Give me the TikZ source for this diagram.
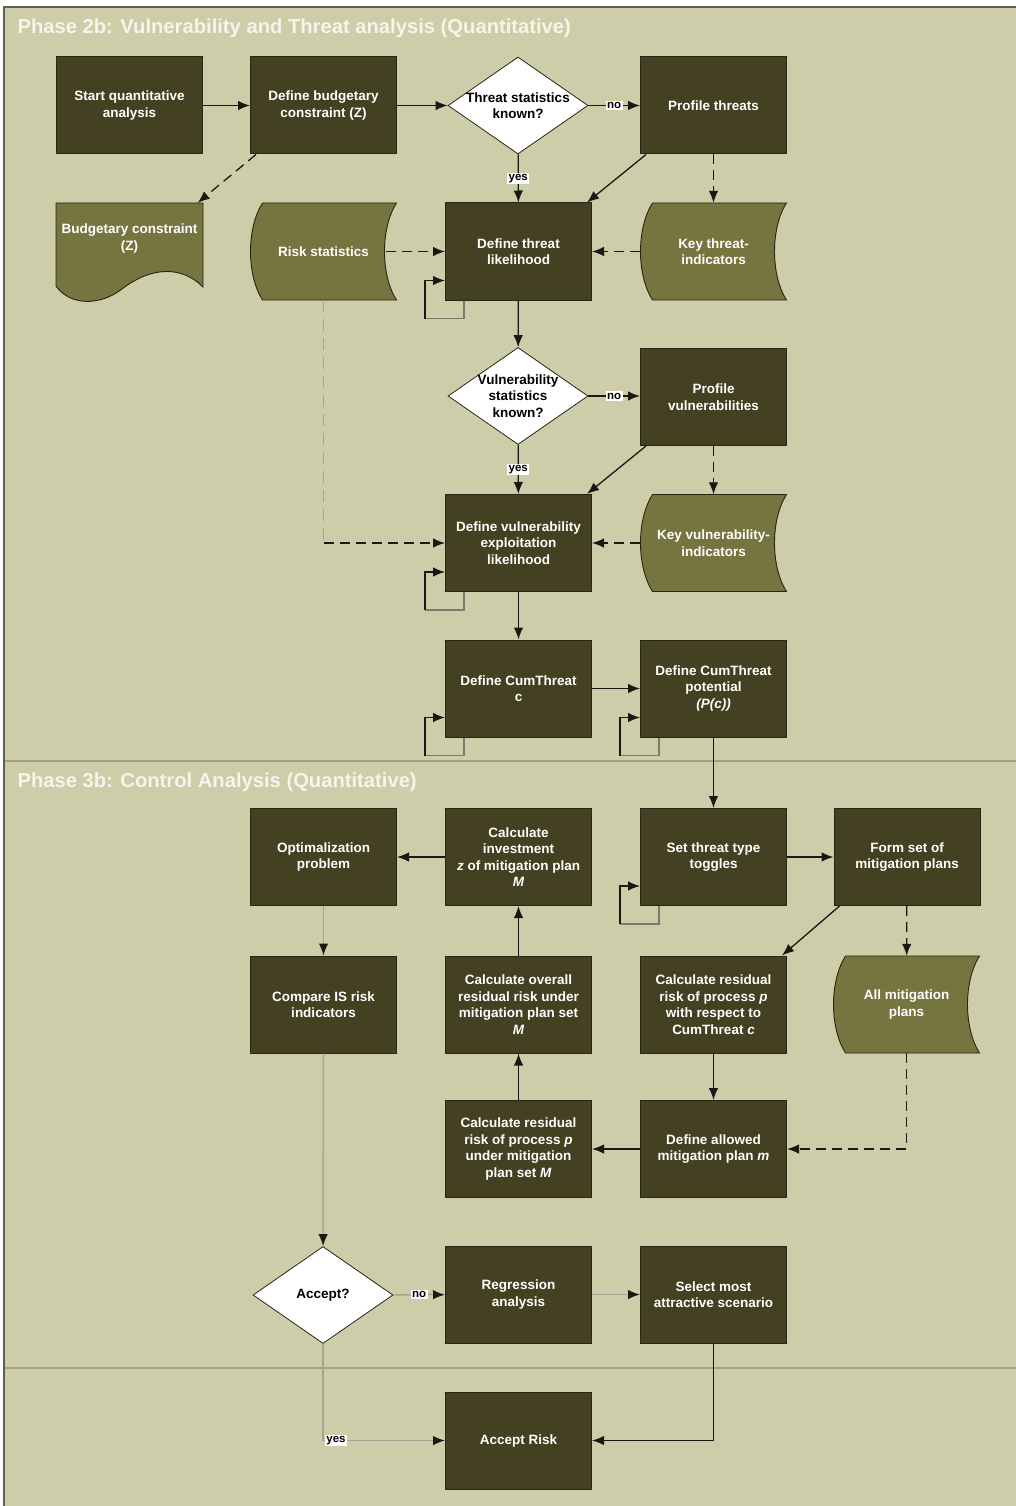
\documentclass[tikz,border=0pt]{standalone}
\usepackage{fontspec}
\setmainfont{Liberation Sans}
\usetikzlibrary{arrows.meta,shapes.geometric,calc}

\definecolor{canvas}{RGB}{205,205,170}
\definecolor{boxfill}{RGB}{67,65,33}
\definecolor{boxedge}{RGB}{38,38,18}
\definecolor{docfill}{RGB}{118,117,64}
\definecolor{laneline}{RGB}{168,158,128}
\definecolor{framecol}{RGB}{95,95,85}
\definecolor{linedark}{RGB}{25,25,20}
\definecolor{linelight}{RGB}{165,165,145}
\definecolor{titletext}{RGB}{245,245,235}

\newcommand\boxfont{\fontsize{13.5}{16.5}\selectfont\bfseries}
\newcommand\tagfont{\fontsize{11.5}{12}\selectfont\bfseries}

% stored-data outline: flat top and bottom, convex left side, concave right side
\newcommand\storedshape[4]{%
  \filldraw[fill=docfill, draw=boxedge, line width=0.9pt]
    ({#1+12},#2) -- (#3,#2)
    .. controls ({#3-16},{#2+25}) and ({#3-16},{#4-25}) .. (#3,#4)
    -- ({#1+12},#4)
    .. controls ({#1-4},{#4-25}) and ({#1-4},{#2+25}) .. ({#1+12},#2) -- cycle;}

% loop returning to the same step
\newcommand\selfloop[1]{%
  \draw[loopgray] ([xshift=19pt]#1.south west) -- ++(0pt,-18pt) -- ++(-39pt,0pt);
  \draw[flow] ([shift={(-20pt,-18pt)}]#1.south west) -- ([shift={(-20pt,20pt)}]#1.south west) -- ([yshift=20pt]#1.south west);}

\tikzset{
  proc/.style={rectangle, fill=boxfill, draw=boxedge, line width=1pt,
    minimum width=146pt, minimum height=97pt, inner sep=2pt,
    align=center, text=white, font=\boxfont},
  ghost/.style={rectangle, minimum width=146pt, minimum height=97pt,
    inner sep=2pt, align=center, text=white, font=\boxfont},
  decide/.style={diamond, fill=white, draw=boxedge, line width=0.8pt,
    minimum width=140pt, minimum height=97pt, inner sep=0pt},
  dtext/.style={align=center, text=black, font=\boxfont},
  title/.style={anchor=base west, text=titletext,
    font=\fontsize{20.2}{22}\selectfont\bfseries},
  tag/.style={fill=white, text=black, font=\tagfont, inner sep=1.5pt},
  tip/.style={-{Latex[length=12pt,width=9.5pt,color=linedark]}},
  flow/.style={draw=linedark, line width=1.3pt, tip},
  flowdash/.style={flow, dash pattern=on 10pt off 6pt},
  flowlight/.style={draw=linelight, line width=1.5pt, tip},
  lightdash/.style={draw=linelight, line width=1.5pt, dash pattern=on 12pt off 7pt},
  loopgray/.style={draw=linelight!70!linedark, line width=1.2pt},
  lane/.style={draw=laneline, line width=2pt},
}

\begin{document}
\begin{tikzpicture}[x=1pt,y=-1pt]
\useasboundingbox (0,0) rectangle (1016,1506);
\fill[white] (0,0) rectangle (1016,1506);
\fill[canvas] (4,7) rectangle (1016,1506);
\draw[draw=framecol, line width=2pt] (4,1506) -- (4,7) -- (1016,7);
\draw[lane] (5,761) -- (1016,761);
\draw[lane] (5,1368) -- (1016,1368);

\node[title] (t2b) at (14,34) {Phase 2b: Vulnerability and Threat analysis (Quantitative)};
\node[title] (t3b) at (14,787) {Phase 3b: Control Analysis (Quantitative)};

% ---------- Phase 2b ----------
\node[proc] (start) at (129.5,105.5) {Start quantitative\\analysis};
\node[proc] (budget) at (323.5,105.5) {Define budgetary\\constraint (Z)};
\node[decide, label={[dtext]center:Threat statistics\\known?}] (d1) at (518,105.5) {};
\node[proc] (profthreat) at (713.5,105.5) {Profile threats};

% document with wavy lower edge
\filldraw[fill=docfill, draw=boxedge, line width=0.9pt]
  (56,203) -- (203,203) -- (203,287)
  .. controls (182,266) and (152,266) .. (122,289)
  .. controls (100,306) and (70,306) .. (56,286) -- cycle;
\node[ghost, label={[text=white, align=center, font=\boxfont, yshift=13pt]center:Budgetary constraint\\(Z)}] (budgdoc) at (129.5,251.5) {};

\storedshape{250.5}{203}{396.5}{300}
\node[ghost] (riskstat) at (323.5,251.5) {Risk statistics};
\node[proc] (dtl) at (518.5,251.5) {Define threat\\likelihood};
\storedshape{640.5}{203}{786.5}{300}
\node[ghost] (keythreat) at (713.5,251.5) {Key threat-\\indicators};

\node[decide, label={[dtext]center:Vulnerability\\statistics\\known?}] (d2) at (518,396) {};
\node[proc] (profvuln) at (713.5,397) {Profile\\vulnerabilities};

\node[proc] (dvel) at (518.5,543) {Define vulnerability\\exploitation\\likelihood};
\storedshape{640.5}{494.5}{786.5}{591.5}
\node[ghost] (keyvuln) at (713.5,543) {Key vulnerability-\\indicators};

\node[proc] (cum) at (518.5,688.5) {Define CumThreat\\c};
\node[proc] (pot) at (713.5,688.5) {Define CumThreat\\potential\\\textit{(P(c))}};

% ---------- Phase 3b ----------
\node[proc] (optim) at (323.5,857) {Optimalization\\problem};
\node[proc] (invest) at (518.5,857) {Calculate\\investment\\\textit{z} of mitigation plan\\\textit{M}};
\node[proc] (toggles) at (713.5,857) {Set threat type\\toggles};
\node[proc] (formset) at (907,857) {Form set of\\mitigation plans};

\node[proc] (compare) at (323.5,1004.5) {Compare IS risk\\indicators};
\node[proc] (overall) at (518.5,1004.5) {Calculate overall\\residual risk under\\mitigation plan set\\\textit{M}};
\node[proc] (calcres) at (713.5,1004.5) {Calculate residual\\risk of process \textit{p}\\with respect to\\CumThreat \textit{c}};
\storedshape{833.5}{956}{979.5}{1053}
\node[ghost] (allmit) at (906.5,1004.5) {All mitigation\\plans};

\node[proc] (calcresM) at (518.5,1149) {Calculate residual\\risk of process \textit{p}\\under mitigation\\plan set \textit{M}};
\node[proc] (allowed) at (713.5,1149) {Define allowed\\mitigation plan \textit{m}};

\node[decide, label={[dtext]center:Accept?}] (accept) at (323,1295) {};
\node[proc] (regress) at (518.5,1294.5) {Regression\\analysis};
\node[proc] (select) at (713.5,1294.5) {Select most\\attractive scenario};

\node[proc] (acceptrisk) at (518.5,1440.5) {Accept Risk};

% ---------- connectors, phase 2b ----------
\draw[flow] (start) -- (budget);
\draw[flow] (budget) -- (d1);
\draw[flow] (d1) -- node[tag] {no} (profthreat);
\draw[flow] (d1) -- node[tag] {yes} (dtl);
\draw[flowdash] ([xshift=6pt]budget.south west) -- ([xshift=-5pt]budgdoc.north east);
\draw[flow] ([xshift=6pt]profthreat.south west) -- ([xshift=-5pt]dtl.north east);
\draw[flowdash] (profthreat) -- (keythreat);
\draw[flowdash] ([xshift=-11pt]riskstat.east) -- (dtl);
\draw[flowdash] (keythreat) -- (dtl);
\selfloop{dtl}
\draw[flow] (dtl) -- (d2);
\draw[flow] (d2) -- node[tag] {no} (d2 -| profvuln.west);
\draw[flow] (d2) -- node[tag] {yes} (dvel);
\draw[flow] ([xshift=6pt]profvuln.south west) -- ([xshift=-5pt]dvel.north east);
\draw[flowdash] (profvuln) -- (keyvuln);
\draw[flowdash] (keyvuln) -- (dvel);
\coordinate (rsbend) at (riskstat.south |- dvel.west);
\draw[lightdash] (riskstat.south) -- (rsbend);
\draw[flowdash] (rsbend) -- (dvel.west);
\selfloop{dvel}
\draw[flow] (dvel) -- (cum);
\draw[flow] (cum) -- (pot);
\selfloop{cum}
\selfloop{pot}

% ---------- connectors, phase 3b ----------
\draw[flow] (pot) -- (toggles);
\draw[flow] (toggles) -- (formset);
\selfloop{toggles}
\draw[flow] (invest) -- (optim);
\draw[flow] ([xshift=6pt]formset.south west) -- ([xshift=-5pt]calcres.north east);
\draw[flowdash] (formset) -- (allmit);
\draw[flowlight] (optim) -- (compare);
\draw[flow] (overall) -- (invest);
\draw[flow] (calcres) -- (allowed);
\draw[flow] (allowed) -- (calcresM);
\draw[flow] (calcresM) -- (overall);
\draw[flowdash] (allmit.south) |- (allowed.east);
\draw[flowlight] (compare) -- (accept);
\draw[flowlight] (accept) -- node[tag] {no} (regress);
\draw[flowlight] (regress) -- (select);
\draw[flowlight] (accept.south) |- (acceptrisk.west);
\node[tag] (yestag) at ([xshift=13pt]accept.south |- acceptrisk.west) {yes};
\draw[flow] (select.south) |- (acceptrisk.east);
\end{tikzpicture}
\end{document}
